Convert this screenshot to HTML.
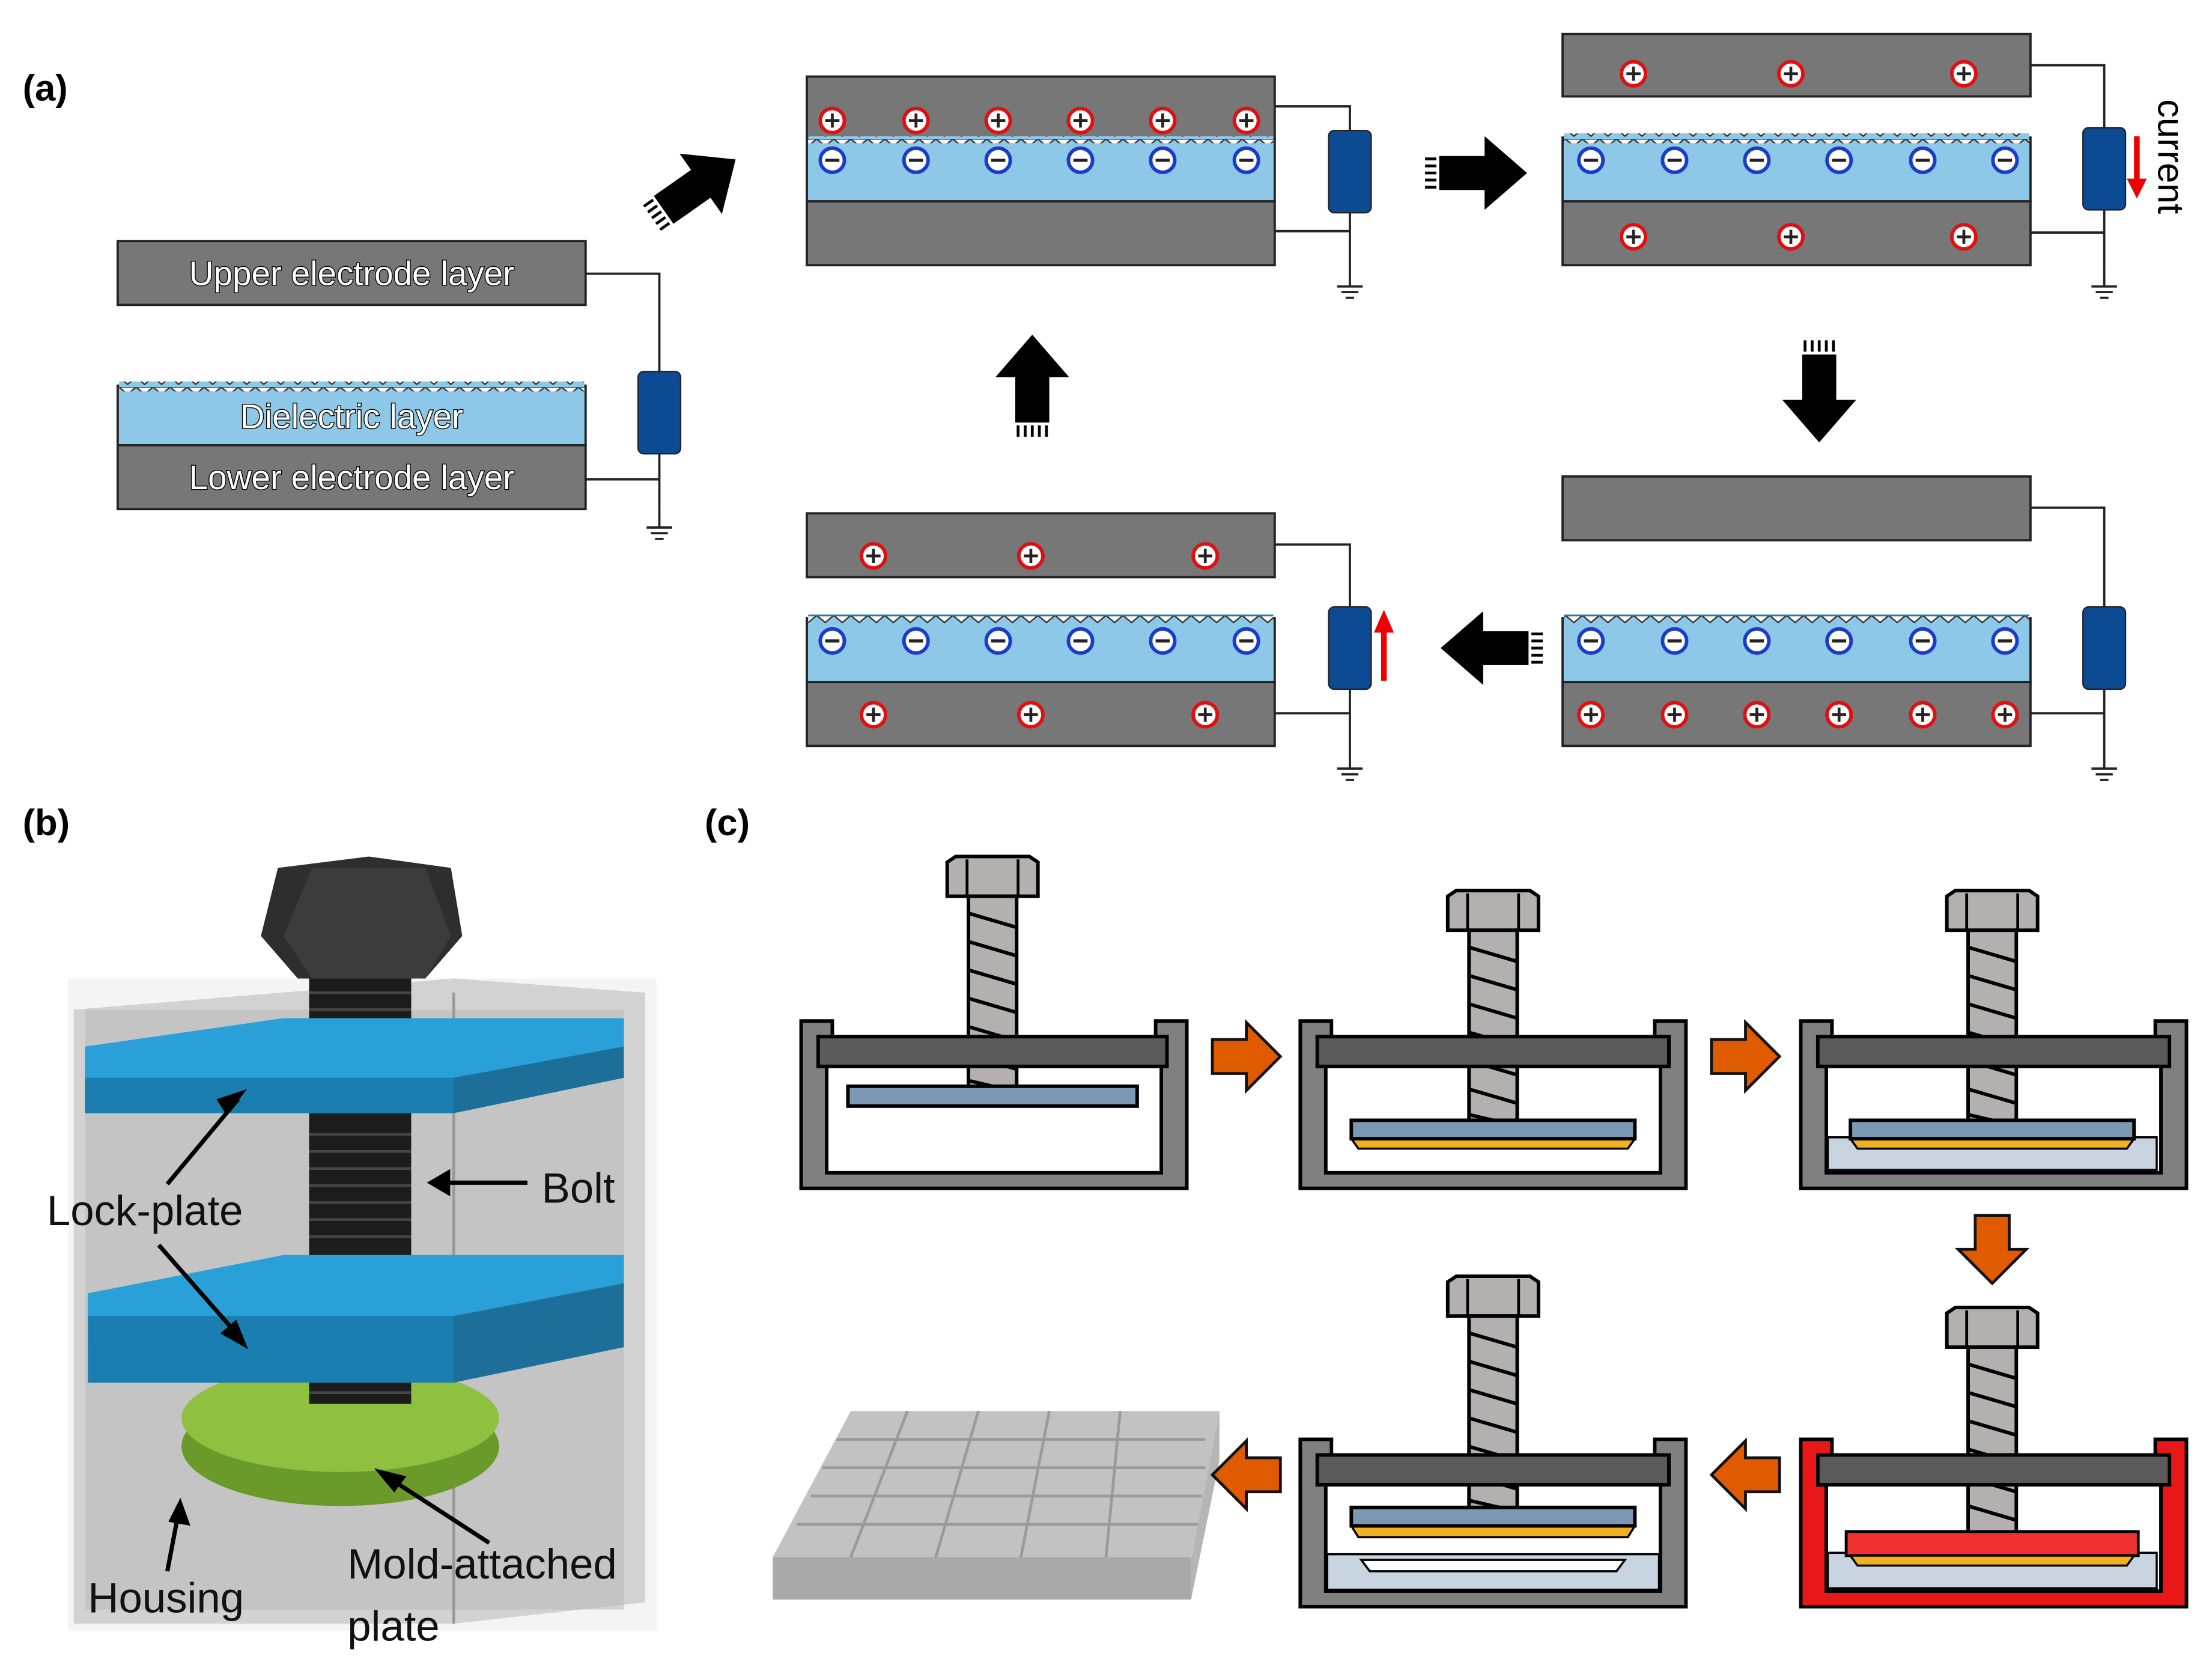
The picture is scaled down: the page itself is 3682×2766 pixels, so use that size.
<!DOCTYPE html>
<html><head><meta charset="utf-8"><style>html,body{margin:0;padding:0;background:#fff}svg{display:block}</style></head>
<body>
<svg width="3682" height="2766" viewBox="0 0 1560 1172" preserveAspectRatio="none" xmlns="http://www.w3.org/2000/svg" font-family="Liberation Sans, Arial, sans-serif">
<defs>
<pattern id="zz" x="0" y="0" width="12" height="7" patternUnits="userSpaceOnUse">
<rect width="12" height="7" fill="#8ec8e8"/>
<path d="M0 0 L6 5 L12 0 Z" fill="#fff" stroke="#333" stroke-width="1"/>
</pattern>
<g id="pl"><circle r="8.5" fill="#fff" stroke="#e01010" stroke-width="2.5"/><path d="M-5 0H5M0 -5V5" stroke="#222" stroke-width="2"/></g>
<g id="mi"><circle r="8.5" fill="#fff" stroke="#1a3cc8" stroke-width="2.5"/><path d="M-5 0H5" stroke="#222" stroke-width="2.2"/></g>
<g id="gnd"><path d="M0 0V12M-9 12H9M-6 16H6M-3 20H3" stroke="#222" stroke-width="1.6" fill="none"/></g>
<g id="res"><rect x="-15" y="0" width="30" height="58" rx="4" fill="#0d4a94" stroke="#222" stroke-width="1"/></g>
<g id="bolt">
<path d="M-32 4 L-26 0 H26 L32 4 V28 H-32 Z" fill="#b4b0b0" stroke="#000" stroke-width="2.5"/>
<path d="M-18 2V28M18 2V28" stroke="#000" stroke-width="2"/>
<rect x="-17" y="28" width="34" height="140" fill="#b4b0b0" stroke="#000" stroke-width="2.5"/>
<path d="M-17 40L17 50M-17 60L17 70M-17 80L17 90M-17 100L17 110M-17 120L17 130M-17 140L17 150M-17 158L17 166" stroke="#000" stroke-width="2.5"/>
</g>
<g id="hous">
<path d="M0 0H22V12H250V0H272V118H0Z" fill="#808080" stroke="#000" stroke-width="2.5"/>
<rect x="18" y="30" width="236" height="77" fill="#fff" stroke="#000" stroke-width="2.5"/>
</g>
<g id="oarr"><path d="M0 -12H24V-24L48 0L24 24V12H0Z" fill="#e05a00" stroke="#111" stroke-width="2"/></g>
<g id="barr"><path d="M0 -12H32V-26L62 0L32 26V12H0Z" fill="#000"/><path d="M-10 -10H-2M-10 -5H-2M-10 0H-2M-10 5H-2M-10 10H-2" stroke="#000" stroke-width="2"/></g>
</defs>
<rect width="1560" height="1172" fill="#fff"/>

<!-- (a) -->
<text x="16" y="71" font-size="26" font-weight="bold">(a)</text>
<g stroke="#222" stroke-width="1.6">
<rect x="83" y="170" width="330" height="45" fill="#777"/>
<rect x="83" y="272" width="330" height="42" fill="#8ec8e8"/>
<rect x="83" y="314" width="330" height="45" fill="#777"/>
</g>
<rect x="84" y="269" width="328" height="7" fill="url(#zz)"/>
<g font-size="24" fill="#fff" stroke="#000" stroke-width="1.2" text-anchor="middle" paint-order="stroke">
<text x="248" y="201">Upper electrode layer</text>
<text x="248" y="302">Dielectric layer</text>
<text x="248" y="345">Lower electrode layer</text>
</g>
<path d="M413 193H465V262M465 320V338H413M465 338V360" stroke="#222" stroke-width="1.6" fill="none"/>
<use href="#res" x="465" y="262"/><use href="#gnd" x="465" y="360"/>

<!-- generic panel builder repeated -->
<g stroke="#222" stroke-width="1.6">
<rect x="569" y="54" width="330" height="44" fill="#777"/>
<rect x="569" y="98" width="330" height="44" fill="#8ec8e8"/>
<rect x="569" y="142" width="330" height="45" fill="#777"/>
<rect x="1102" y="24" width="330" height="44" fill="#777"/>
<rect x="1102" y="97" width="330" height="45" fill="#8ec8e8"/>
<rect x="1102" y="142" width="330" height="45" fill="#777"/>
<rect x="1102" y="336" width="330" height="45" fill="#777"/>
<rect x="1102" y="436" width="330" height="45" fill="#8ec8e8"/>
<rect x="1102" y="481" width="330" height="45" fill="#777"/>
<rect x="569" y="362" width="330" height="45" fill="#777"/>
<rect x="569" y="436" width="330" height="45" fill="#8ec8e8"/>
<rect x="569" y="481" width="330" height="45" fill="#777"/>
</g>
<rect x="570" y="96" width="328" height="5" fill="url(#zz)"/>
<rect x="1103" y="94" width="328" height="7" fill="url(#zz)"/>
<rect x="1103" y="433" width="328" height="7" fill="url(#zz)"/>
<rect x="570" y="433" width="328" height="7" fill="url(#zz)"/>
<g fill="none" stroke="#222" stroke-width="1.6">
<path d="M899 75H952V92M952 150V163H899M952 163V190"/>
<path d="M1432 46H1484V90M1484 148V164H1432M1484 164V190"/>
<path d="M1432 358H1484V428M1484 486V503H1432M1484 503V530"/>
<path d="M899 384H952V428M952 486V503H899M952 503V530"/>
</g>
<use href="#res" x="952" y="92"/><use href="#gnd" x="952" y="190"/>
<use href="#res" x="1484" y="90"/><use href="#gnd" x="1484" y="190"/>
<use href="#res" x="1484" y="428"/><use href="#gnd" x="1484" y="530"/>
<use href="#res" x="952" y="428"/><use href="#gnd" x="952" y="530"/>
<!-- charges -->
<use href="#pl" x="587" y="85"/><use href="#pl" x="646" y="85"/><use href="#pl" x="704" y="85"/><use href="#pl" x="762" y="85"/><use href="#pl" x="820" y="85"/><use href="#pl" x="879" y="85"/>
<use href="#mi" x="587" y="113"/><use href="#mi" x="646" y="113"/><use href="#mi" x="704" y="113"/><use href="#mi" x="762" y="113"/><use href="#mi" x="820" y="113"/><use href="#mi" x="879" y="113"/>
<use href="#pl" x="1152" y="52"/><use href="#pl" x="1263" y="52"/><use href="#pl" x="1385" y="52"/>
<use href="#mi" x="1122" y="113"/><use href="#mi" x="1181" y="113"/><use href="#mi" x="1239" y="113"/><use href="#mi" x="1297" y="113"/><use href="#mi" x="1356" y="113"/><use href="#mi" x="1414" y="113"/>
<use href="#pl" x="1152" y="167"/><use href="#pl" x="1263" y="167"/><use href="#pl" x="1385" y="167"/>
<use href="#mi" x="1122" y="452"/><use href="#mi" x="1181" y="452"/><use href="#mi" x="1239" y="452"/><use href="#mi" x="1297" y="452"/><use href="#mi" x="1356" y="452"/><use href="#mi" x="1414" y="452"/>
<use href="#pl" x="1122" y="504"/><use href="#pl" x="1181" y="504"/><use href="#pl" x="1239" y="504"/><use href="#pl" x="1297" y="504"/><use href="#pl" x="1356" y="504"/><use href="#pl" x="1414" y="504"/>
<use href="#pl" x="616" y="392"/><use href="#pl" x="727" y="392"/><use href="#pl" x="850" y="392"/>
<use href="#mi" x="587" y="452"/><use href="#mi" x="646" y="452"/><use href="#mi" x="704" y="452"/><use href="#mi" x="762" y="452"/><use href="#mi" x="820" y="452"/><use href="#mi" x="879" y="452"/>
<use href="#pl" x="616" y="504"/><use href="#pl" x="727" y="504"/><use href="#pl" x="850" y="504"/>
<!-- red arrows -->
<path d="M1507 96V128" stroke="#e00" stroke-width="4"/><path d="M1500 126L1507 140L1514 126Z" fill="#e00"/>
<path d="M976 480V444" stroke="#e00" stroke-width="4"/><path d="M969 446L976 430L983 446Z" fill="#e00"/>
<text transform="translate(1522,70) rotate(90)" font-size="26">current</text>
<!-- black arrows -->
<use href="#barr" transform="translate(468,148) rotate(-35)"/>
<use href="#barr" transform="translate(1015,122)"/>
<use href="#barr" transform="translate(1283,250) rotate(90)"/>
<use href="#barr" transform="translate(1078,457) rotate(180)"/>
<use href="#barr" transform="translate(728,298) rotate(-90)"/>

<!-- (b) -->
<text x="16" y="589" font-size="26" font-weight="bold">(b)</text>
<rect x="48" y="690" width="415" height="460" fill="#f4f4f4"/>
<path d="M52 712L320 690L455 700V1130L320 1145H52Z" fill="#c9c9c9" opacity="0.8"/>
<path d="M60 712H440V1135H60Z" fill="#b8b8b8" opacity="0.55"/>
<path d="M320 700V1145" stroke="#999" stroke-width="2"/>
<ellipse cx="240" cy="1020" rx="112" ry="42" fill="#6a9a2a"/>
<ellipse cx="240" cy="1000" rx="112" ry="38" fill="#8fc040"/>
<rect x="218" y="690" width="72" height="300" fill="#1c1c1c"/>
<g stroke="#444" stroke-width="2"><path d="M218 700H290M218 712H290M218 724H290M218 800H290M218 812H290M218 824H290M218 836H290M218 848H290M218 860H290M218 872H290M218 970H290M218 982H290"/></g>
<path d="M60 738L200 718H440V760L320 785H60Z" fill="#2aa0d8"/>
<path d="M60 760H320V785H60Z" fill="#1a7eb0"/>
<path d="M320 760L440 738V760L320 785Z" fill="#1d6f9a"/>
<path d="M62 912L200 885H440V928L320 952H62Z" fill="#2aa0d8"/>
<path d="M62 928H320V975H62Z" fill="#1a7eb0"/>
<path d="M320 928L440 905V950L320 975Z" fill="#1d6f9a"/>
<path d="M196 612L260 604L318 612L326 660L300 690H210L184 660Z" fill="#2e2e2e"/>
<path d="M220 612L300 612L318 660L300 690H220L200 660Z" fill="#3c3c3c"/>
<g stroke="#000" stroke-width="3" fill="#000">
<path d="M118 835L168 775"/><path d="M170 771L160 784L155 776Z"/>
<path d="M112 878L170 944"/><path d="M172 948L158 940L166 933Z"/>
<path d="M372 834H310"/><path d="M304 834L316 827V841Z"/>
<path d="M118 1108L126 1066"/><path d="M127 1060L132 1074L121 1072Z"/>
<path d="M345 1088L274 1042"/><path d="M268 1038L284 1042L278 1050Z"/>
</g>
<g font-size="30" fill="#111">
<text x="33" y="864">Lock-plate</text>
<text x="382" y="848">Bolt</text>
<text x="62" y="1137">Housing</text>
<text x="245" y="1113">Mold-attached</text>
<text x="245" y="1157">plate</text>
</g>

<!-- (c) -->
<text x="497" y="589" font-size="26" font-weight="bold">(c)</text>
<!-- unit 1 -->
<use href="#hous" x="565" y="720"/>
<use href="#bolt" x="700" y="604"/>
<rect x="577" y="731" width="246" height="21" fill="#5a5a5a" stroke="#000" stroke-width="2.5"/>
<rect x="598" y="766" width="204" height="14" fill="#7c98b4" stroke="#000" stroke-width="2.5"/>
<!-- unit 2 -->
<use href="#hous" x="917" y="720"/>
<use href="#bolt" x="1053" y="628"/>
<rect x="929" y="731" width="248" height="21" fill="#5a5a5a" stroke="#000" stroke-width="2.5"/>
<path d="M953 803 L1153 803 L1148 810 L958 810Z" fill="#f0b020" stroke="#000" stroke-width="1.5"/>
<rect x="953" y="790" width="200" height="13" fill="#7c98b4" stroke="#000" stroke-width="2.5"/>
<!-- unit 3 -->
<use href="#hous" x="1270" y="720"/>
<use href="#bolt" x="1405" y="628"/>
<rect x="1282" y="731" width="248" height="21" fill="#5a5a5a" stroke="#000" stroke-width="2.5"/>
<rect x="1289" y="802" width="232" height="23" fill="#c8d4e0" stroke="#000" stroke-width="1.5"/>
<path d="M1305 803 L1505 803 L1500 810 L1310 810Z" fill="#f0b020" stroke="#000" stroke-width="1.5"/>
<rect x="1305" y="790" width="200" height="13" fill="#7c98b4" stroke="#000" stroke-width="2.5"/>
<!-- unit 5 red -->
<path d="M1270 1015H1292V1027H1520V1015H1542V1133H1270Z" fill="#e81818" stroke="#000" stroke-width="2.5"/>
<rect x="1288" y="1045" width="236" height="77" fill="#fff" stroke="#000" stroke-width="2.5"/>
<use href="#bolt" x="1405" y="922"/>
<rect x="1282" y="1026" width="248" height="21" fill="#5a5a5a" stroke="#000" stroke-width="2.5"/>
<rect x="1289" y="1095" width="232" height="25" fill="#c8d4e0" stroke="#000" stroke-width="1.5"/>
<rect x="1302" y="1080" width="206" height="17" fill="#f03030" stroke="#000" stroke-width="2"/>
<path d="M1305 1097 L1505 1097 L1500 1104 L1310 1104Z" fill="#f0b020" stroke="#000" stroke-width="1.5"/>
<!-- unit 4 -->
<use href="#hous" x="917" y="1015"/>
<use href="#bolt" x="1053" y="900"/>
<rect x="929" y="1026" width="248" height="21" fill="#5a5a5a" stroke="#000" stroke-width="2.5"/>
<path d="M936 1096 L1170 1096 L1170 1121 L936 1121Z" fill="#c8d4e0" stroke="#000" stroke-width="1.5"/>
<path d="M960 1100 L1146 1100 L1140 1108 L966 1108Z" fill="#fff" stroke="#000" stroke-width="1.5"/>
<path d="M953 1076 L1153 1076 L1148 1084 L958 1084Z" fill="#f0b020" stroke="#000" stroke-width="1.5"/>
<rect x="953" y="1063" width="200" height="13" fill="#7c98b4" stroke="#000" stroke-width="2.5"/>
<!-- final pad -->
<path d="M545 1098L600 995H860L840 1100Z" fill="#c2c2c2"/>
<path d="M545 1098H840V1128H545Z" fill="#a9a9a9"/>
<path d="M840 1100L860 995V1030L840 1128Z" fill="#b5b5b5"/>
<g stroke="#9a9a9a" stroke-width="2" fill="none">
<path d="M590 1015H850M580 1035H850M572 1055H848M562 1075H845"/>
<path d="M640 995L600 1098M690 995L660 1098M740 995L720 1098M790 995L780 1098"/>
</g>
<!-- orange arrows -->
<use href="#oarr" x="855" y="745"/>
<use href="#oarr" x="1207" y="745"/>
<use href="#oarr" transform="translate(1405,857) rotate(90)"/>
<use href="#oarr" transform="translate(1255,1040) rotate(180)"/>
<use href="#oarr" transform="translate(903,1040) rotate(180)"/>
</svg>
</body></html>
